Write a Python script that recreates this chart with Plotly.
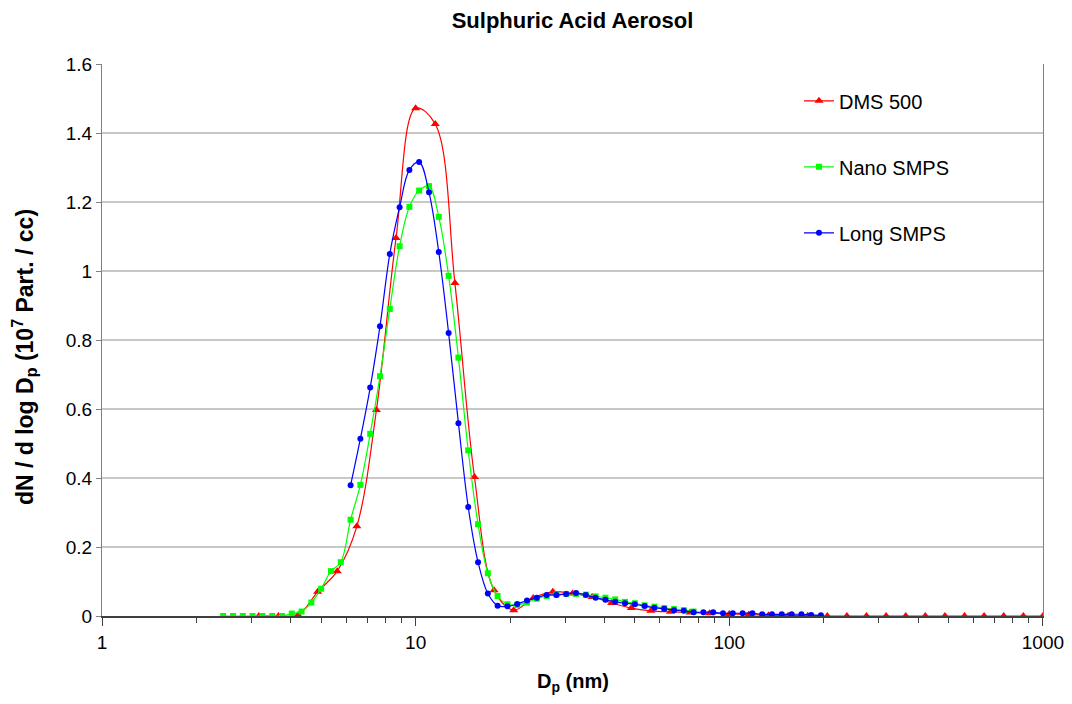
import plotly.graph_objects as go

# DMS 500 (16 channels / decade)
dms_d = [3.162, 3.652, 4.217, 4.870, 5.623, 6.494, 7.499, 8.660, 10.00, 11.55,
         13.34, 15.40, 17.78, 20.54, 23.71, 27.38, 31.62, 36.52, 42.17, 48.70,
         56.23, 64.94, 74.99, 86.60, 100.0, 115.5, 133.4, 154.0, 177.8, 205.4,
         237.1, 273.8, 316.2, 365.2, 421.7, 487.0, 562.3, 649.4, 749.9, 866.0, 1000]
dms_n = [0.0, 0.0, 0.003, 0.07, 0.13, 0.26, 0.597, 1.096, 1.472, 1.426,
         0.965, 0.403, 0.075, 0.017, 0.052, 0.070, 0.065, 0.055, 0.038, 0.023,
         0.015, 0.012, 0.010, 0.008, 0.006, 0.004, 0.002, 0.001, 0.001, 0.0,
         0.0, 0.0, 0.0, 0.0, 0.0, 0.0, 0.0, 0.0, 0.0, 0.0, 0.0]

# Nano SMPS
nano_d = [2.434, 2.616, 2.811, 3.020, 3.246, 3.488, 3.748, 4.028, 4.328, 4.651,
          4.998, 5.371, 5.772, 6.203, 6.665, 7.163, 7.697, 8.271, 8.889, 9.552,
          10.26, 11.03, 11.85, 12.74, 13.69, 14.71, 15.81, 16.99, 18.25, 19.62,
          21.08, 22.65, 24.34, 26.16, 28.11, 30.20, 32.46, 34.88, 37.48, 40.28,
          43.28, 46.51, 49.98, 53.71, 57.72, 62.02, 66.65, 71.60, 76.94]
nano_n = [0.0, 0.0, 0.0, 0.0, 0.0, 0.0, 0.0, 0.007, 0.013, 0.039,
          0.079, 0.13, 0.156, 0.279, 0.38, 0.528, 0.695, 0.89, 1.072, 1.186,
          1.233, 1.246, 1.157, 0.986, 0.749, 0.48, 0.266, 0.124, 0.058, 0.034,
          0.032, 0.039, 0.05, 0.058, 0.062, 0.064, 0.064, 0.062, 0.057, 0.053,
          0.048, 0.041, 0.037, 0.031, 0.027, 0.023, 0.02, 0.017, 0.013]

# Long SMPS
long_d = [6.203, 6.665, 7.163, 7.697, 8.271, 8.889, 9.552, 10.26, 11.03, 11.85,
          12.74, 13.69, 14.71, 15.81, 16.99, 18.25, 19.62, 21.08, 22.65, 24.34,
          26.16, 28.11, 30.20, 32.46, 34.88, 37.48, 40.28, 43.28, 46.51, 49.98,
          53.71, 57.72, 62.02, 66.65, 71.60, 76.94, 82.68, 88.85, 95.48, 102.6,
          110.3, 118.5, 127.3, 136.8, 147.0, 158.0, 169.8, 182.4, 196.0]
long_n = [0.379, 0.514, 0.662, 0.84, 1.049, 1.185, 1.293, 1.316, 1.228, 1.055,
          0.82, 0.559, 0.316, 0.156, 0.065, 0.030, 0.028, 0.035, 0.045, 0.053,
          0.061, 0.061, 0.064, 0.067, 0.061, 0.053, 0.047, 0.041, 0.037, 0.034,
          0.029, 0.024, 0.021, 0.017, 0.015, 0.011, 0.011, 0.011, 0.008, 0.008,
          0.008, 0.008, 0.005, 0.005, 0.005, 0.005, 0.005, 0.003, 0.002]

x_ticks = [1, 10, 100, 1000]
x_labels = ['1', '10', '100', '1000']

font = 'Liberation Sans, Arial, sans-serif'

series = [
    ('DMS 500', dms_d, dms_n, 'rgb(255,0,0)', 'triangle-up', 8),
    ('Nano SMPS', nano_d, nano_n, 'rgb(0,255,0)', 'square', 6),
    ('Long SMPS', long_d, long_n, 'rgb(0,0,255)', 'circle', 6),
]

fig = go.Figure()
for name, xs, ys, color, symbol, size in series:
    fig.add_trace(go.Scatter(
        x=xs, y=ys, name=name, legendgroup=name,
        mode='lines+markers',
        line=dict(color=color, width=1.2, shape='spline', smoothing=1),
        marker=dict(color=color, symbol=symbol, size=size),
    ))

# minor ticks at 2..9 of every decade
minor_vals = [m * 10 ** e for e in range(3) for m in range(2, 10)]

# page body has an 8px margin, so the figure is 16px smaller than the window
fig.update_layout(
    width=1056, height=688,
    margin=dict(l=94, r=21, t=56, b=80),
    plot_bgcolor='white', paper_bgcolor='white',
    font=dict(family=font, size=19, color='black'),
    title=dict(text='<b>Sulphuric Acid Aerosol</b>', x=0.5, xref='paper',
               y=1 - 12 / 688, yanchor='middle', font=dict(size=22)),
    legend=dict(x=0.7407, y=0.9687, xanchor='left', yanchor='top',
                bgcolor='rgba(0,0,0,0)', tracegroupgap=37,
                font=dict(size=20), itemwidth=30),
    showlegend=True,
)

fig.update_xaxes(
    type='log', range=[0, 3.0002], automargin=False,
    tickvals=x_ticks, ticktext=x_labels, ticklabeloverflow='allow',
    ticks='outside', ticklen=8, tickcolor='#404040',
    showline=True, linecolor='#404040', linewidth=1.5,
    showgrid=False, zeroline=False,
    minor=dict(tickvals=minor_vals, ticks='outside', ticklen=5,
               tickcolor='#404040', showgrid=False),
)
fig.update_yaxes(
    range=[0, 1.6], dtick=0.2, automargin=False,
    ticks='outside', ticklen=5, tickcolor='#808080',
    showline=True, linecolor='#808080', linewidth=1, mirror=True,
    showgrid=True, gridcolor='#c8c8c8', gridwidth=1.5, zeroline=False,
)

fig.add_annotation(
    text='<b>dN / d log D<sub>p</sub> (10<sup>7</sup> Part. / cc)</b>',
    xref='paper', yref='paper', x=-0.0829, y=0.469,
    textangle=-90, showarrow=False, font=dict(size=23),
    xanchor='center', yanchor='middle',
)
fig.add_annotation(
    text='<b>D<sub>p</sub> (nm)</b>',
    xref='paper', yref='paper', x=0.5, y=-0.121,
    showarrow=False, font=dict(size=20),
    xanchor='center', yanchor='middle',
)

fig.write_html('out.html')
